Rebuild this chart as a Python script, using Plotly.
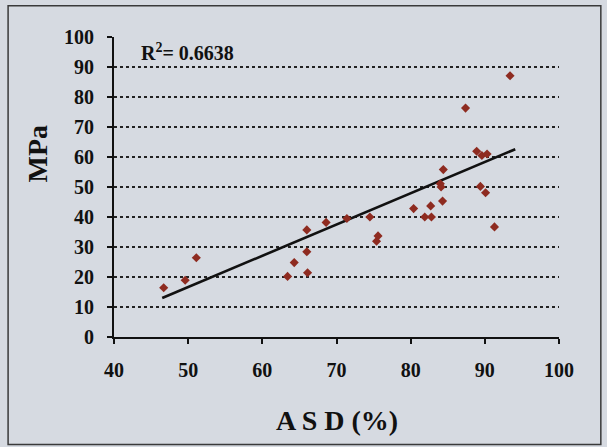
import plotly.graph_objects as go

# Data
asd_pct = [46.7, 49.6, 51.1, 63.4, 64.3, 66.0, 66.0, 66.1, 68.6, 71.4, 74.5, 75.4, 75.6,
           80.4, 81.9, 82.7, 82.8, 84.0, 84.1, 84.3, 84.4, 87.4, 88.9, 89.6, 90.3,
           89.4, 90.1, 91.3, 93.4]
mpa = [16.4, 18.9, 26.4, 20.2, 24.8, 35.7, 28.4, 21.4, 38.2, 39.5, 40.0, 31.9, 33.7,
       42.8, 40.0, 43.7, 40.0, 51.1, 50.0, 45.3, 55.8, 76.3, 61.9, 60.5, 61.0,
       50.2, 48.1, 36.7, 87.1]

trend_x = [46.5, 94.1]
trend_slope = 1.042
trend_intercept = -35.45
r_squared = "0.6638"

x_ticks = [40, 50, 60, 70, 80, 90, 100]
y_ticks = [0, 10, 20, 30, 40, 50, 60, 70, 80, 90, 100]

FONT = "Liberation Serif"
BG = "#d6dae1"

trend_y = [trend_slope * x + trend_intercept for x in trend_x]

fig = go.Figure()
fig.add_trace(go.Scatter(
    x=trend_x, y=trend_y, mode="lines",
    line=dict(color="#111111", width=2.6), showlegend=False, hoverinfo="skip"))
fig.add_trace(go.Scatter(
    x=asd_pct, y=mpa, mode="markers",
    marker=dict(symbol="diamond", size=7, color="#8e2b20",
                line=dict(width=0)), showlegend=False))

fig.update_layout(
    width=607, height=447,
    margin=dict(l=114, r=48, t=37, b=110),
    paper_bgcolor=BG, plot_bgcolor=BG,
    font=dict(family=FONT, color="#111111"),
    xaxis=dict(
        range=[40, 100], tickvals=x_ticks, ticktext=["<b>%d</b>" % v for v in x_ticks],
        showgrid=False, zeroline=False,
        showline=True, linecolor="#111111", linewidth=2,
        ticks="outside", ticklen=5, tickwidth=1.5, tickcolor="#111111",
        tickfont=dict(family=FONT, size=20, color="#111111"),
        ticklabelstandoff=9,
    ),
    yaxis=dict(
        range=[0, 100], tickvals=y_ticks, ticktext=["<b>%d</b>" % v for v in y_ticks],
        showgrid=True, gridcolor="#222222", gridwidth=1.5, griddash="dot",
        zeroline=False,
        showline=True, linecolor="#111111", linewidth=2,
        ticks="outside", ticklen=5, tickwidth=1.5, tickcolor="#111111",
        tickfont=dict(family=FONT, size=20, color="#111111"),
        ticklabelstandoff=9,
    ),
    shapes=[dict(
        type="rect", xref="paper", yref="paper",
        x0=-0.238, x1=1.094, y0=-0.358, y1=1.104,
        line=dict(color="#3a3a3a", width=1.5), fillcolor="rgba(0,0,0,0)",
        layer="below")],
    annotations=[
        dict(text="<b>A S D (%)</b>", xref="paper", yref="paper",
             x=0.501, y=-0.278, showarrow=False,
             font=dict(family=FONT, size=28, color="#111111"),
             xanchor="center", yanchor="middle"),
        dict(text="<b>MPa</b>", xref="paper", yref="paper",
             x=-0.173, y=0.612, showarrow=False, textangle=-90,
             font=dict(family=FONT, size=28, color="#111111"),
             xanchor="center", yanchor="middle"),
        dict(text="<b>R<sup>2</sup>= " + r_squared + "</b>", xref="paper", yref="paper",
             x=0.056, y=0.949, showarrow=False,
             font=dict(family=FONT, size=20, color="#111111"),
             xanchor="left", yanchor="middle"),
    ],
)

fig.write_html(
    "out.html",
    config={"displayModeBar": False},
    post_script="document.body.style.margin='0';document.body.style.overflow='hidden';"
                "document.body.style.background='%s';" % BG,
)
